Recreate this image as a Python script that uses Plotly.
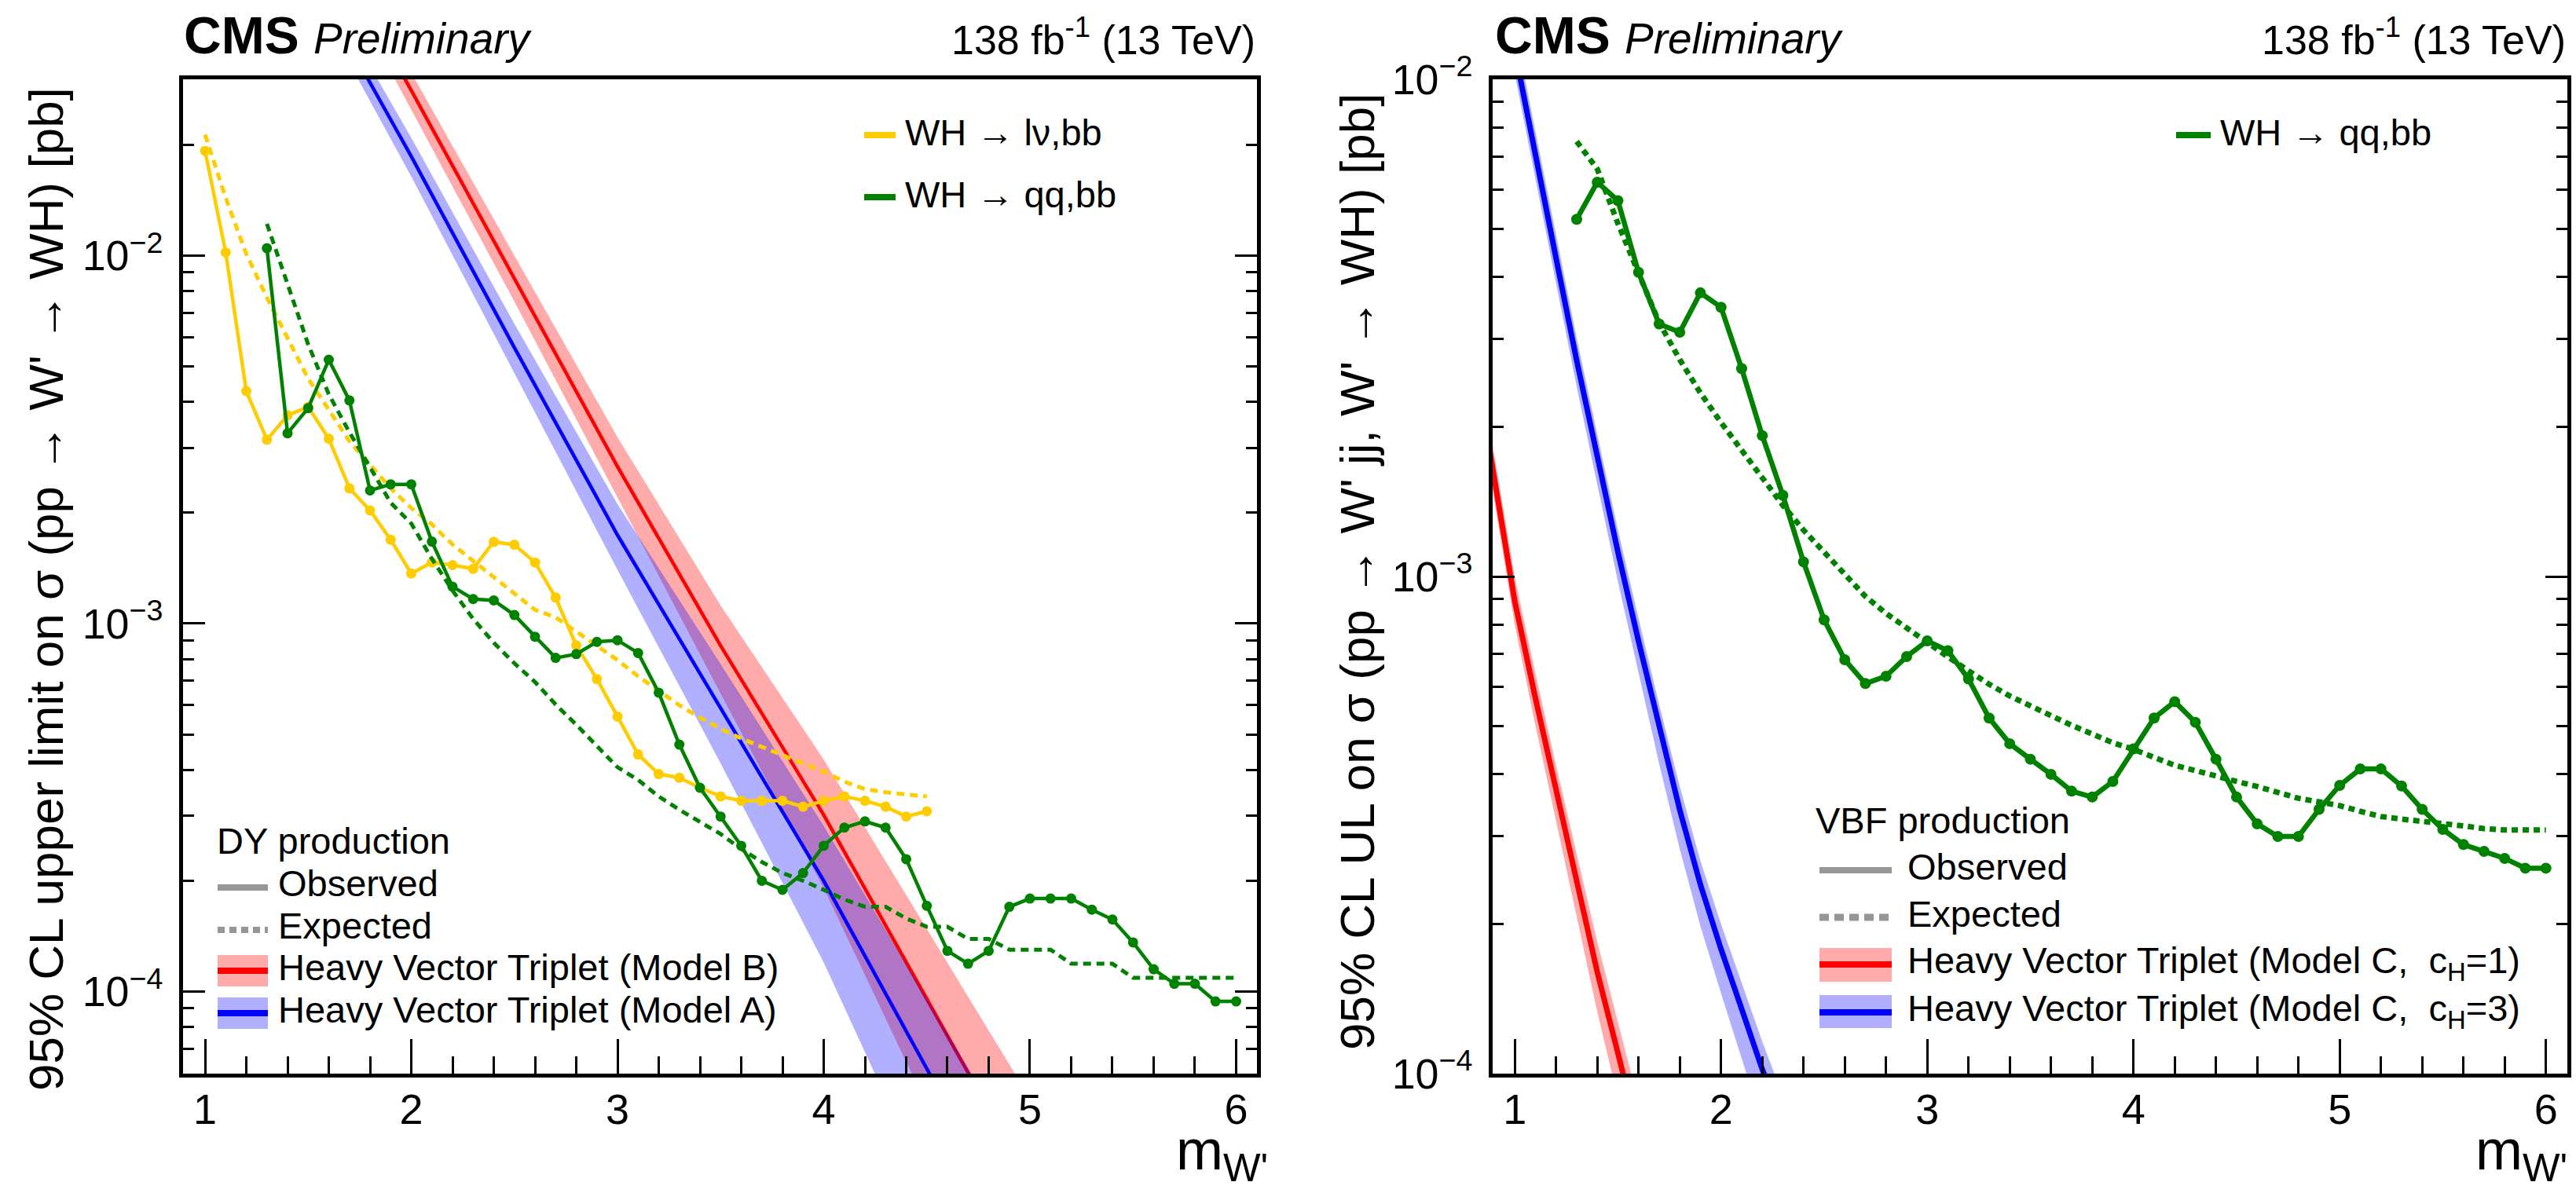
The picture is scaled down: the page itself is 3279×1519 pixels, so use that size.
import plotly.graph_objects as go

W, H = 3279, 1519
FONT = "Liberation Sans"

# ---------------- DATA ----------------
# DY production, WH -> lv,bb
mass_lvbb = [1.0, 1.1, 1.2, 1.3, 1.4, 1.5, 1.6, 1.7, 1.8, 1.9, 2.0, 2.1, 2.2, 2.3, 2.4, 2.5, 2.6, 2.7,
             2.8, 2.9, 3.0, 3.1, 3.2, 3.3, 3.4, 3.5, 3.6, 3.7, 3.8, 3.9, 4.0, 4.1, 4.2, 4.3, 4.4, 4.5]
obs_lvbb = [0.01925, 0.0102, 0.00428, 0.00316, 0.00368, 0.00388, 0.00318, 0.00233, 0.00203, 0.00169,
            0.001368, 0.001466, 0.001442, 0.001409, 0.001667, 0.001638, 0.001466, 0.001177, 0.000873,
            0.000707, 0.000559, 0.000441, 0.000390, 0.000381, 0.000358, 0.000339, 0.00033, 0.00033,
            0.00033, 0.000318, 0.00033, 0.000339, 0.00033, 0.000318, 0.000299, 0.000309]
exp_lvbb = [0.0213, 0.01436, 0.0101, 0.00769, 0.00597, 0.00463, 0.00381, 0.00313, 0.0027, 0.00233,
            0.00206, 0.00186, 0.00164, 0.00148, 0.00134, 0.0012, 0.00109, 0.00104, 0.000951, 0.000875,
            0.000796, 0.000719, 0.000655, 0.0006, 0.000555, 0.000518, 0.000487, 0.000463, 0.00044,
            0.000418, 0.000396, 0.000372, 0.000355, 0.000348, 0.000343, 0.000339]

# DY production, WH -> qq,bb
mass_qqbb = [1.3, 1.4, 1.5, 1.6, 1.7, 1.8, 1.9, 2.0, 2.1, 2.2, 2.3, 2.4, 2.5, 2.6, 2.7, 2.8, 2.9, 3.0,
             3.1, 3.2, 3.3, 3.4, 3.5, 3.6, 3.7, 3.8, 3.9, 4.0, 4.1, 4.2, 4.3, 4.4, 4.5, 4.6, 4.7, 4.8,
             4.9, 5.0, 5.1, 5.2, 5.3, 5.4, 5.5, 5.6, 5.7, 5.8, 5.9, 6.0]
obs_qqbb_dy = [0.01047, 0.00329, 0.00385, 0.00521, 0.00404, 0.0023, 0.00239, 0.00239, 0.00167, 0.00126,
               0.001166, 0.001156, 0.001055, 0.000921, 0.000807, 0.000826, 0.000892, 0.000901, 0.000832,
               0.000649, 0.000469, 0.000358, 0.000299, 0.000249, 0.0002, 0.000189, 0.00021, 0.000249,
               0.000279, 0.00029, 0.000279, 0.000229, 0.000171, 0.000129, 0.000119, 0.000129, 0.00017,
               0.000179, 0.000179, 0.000179, 0.000167, 0.000157, 0.000136, 0.000115, 0.000105, 0.000105,
               0.000094, 0.000094]
exp_qqbb_dy = [0.0122, 0.00835, 0.00574, 0.0042, 0.00331, 0.00266, 0.00213, 0.00187, 0.0015, 0.00123,
               0.00103, 0.000887, 0.00078, 0.000694, 0.000603, 0.000531, 0.000465, 0.000407, 0.000376,
               0.000339, 0.000312, 0.000289, 0.000268, 0.000244, 0.000225, 0.00021, 0.0002, 0.000189,
               0.000178, 0.00017, 0.00017, 0.000158, 0.00015, 0.00015, 0.000139, 0.000139, 0.00013,
               0.00013, 0.00013, 0.000119, 0.000119, 0.000119, 0.000109, 0.000109, 0.000109, 0.000109,
               0.000109, 0.000109]

# HVT DY predictions
hvt_dy_mass = [1.6, 1.8, 2.0, 2.5, 3.0, 3.5, 4.0, 4.5, 5.0]
hvtB = [0.0724, 0.0447, 0.0281, 0.00871, 0.00267, 0.000871, 0.000302, 9.55e-5, 3.02e-5]
hvtB_lo = [0.0653, 0.040, 0.0249, 0.0075, 0.0022, 0.000646, 0.000191, 4.9e-5, 1.26e-5]
hvtB_hi = [0.0794, 0.0493, 0.0314, 0.010, 0.00321, 0.00112, 0.000427, 0.000148, 5.13e-5]
hvtA = [0.0468, 0.0295, 0.0186, 0.00562, 0.00174, 0.000589, 0.0002, 6.17e-5, 1.91e-5]
hvtA_lo = [0.0422, 0.0263, 0.0164, 0.00479, 0.0014, 0.000417, 0.00012, 2.95e-5, 7.6e-6]
hvtA_hi = [0.0513, 0.0327, 0.0209, 0.00653, 0.00211, 0.000776, 0.000282, 9.55e-5, 3.24e-5]

# VBF production, WH -> qq,bb
obs_qqbb_vbf = [0.00523, 0.00621, 0.0057, 0.00409, 0.00322, 0.0031, 0.00372, 0.00348, 0.00262, 0.00192,
                0.001456, 0.00107, 0.000818, 0.00068, 0.000609, 0.00063, 0.00069, 0.000742, 0.000709,
                0.000622, 0.000519, 0.000461, 0.000429, 0.0004, 0.00037, 0.00036, 0.000387, 0.00045,
                0.000519, 0.00056, 0.000509, 0.000429, 0.00036, 0.000318, 0.0003, 0.0003, 0.00034,
                0.00038, 0.00041, 0.00041, 0.000379, 0.00034, 0.00031, 0.000289, 0.00028, 0.000271,
                0.000259, 0.000259]
exp_qqbb_vbf = [0.0075, 0.0066, 0.00513, 0.00407, 0.00324, 0.00273, 0.00234, 0.00204, 0.00179, 0.00157,
                0.00139, 0.00124, 0.00112, 0.00101, 0.000912, 0.000843, 0.000787, 0.000738, 0.000689,
                0.000646, 0.000607, 0.000575, 0.000548, 0.000525, 0.000502, 0.000482, 0.000463, 0.000449,
                0.000434, 0.000417, 0.000407, 0.000398, 0.000387, 0.000378, 0.000367, 0.000358, 0.000352,
                0.000346, 0.000337, 0.000329, 0.000325, 0.000322, 0.000318, 0.000315, 0.000311, 0.000309,
                0.000309, 0.000309]

# HVT VBF predictions
hvtC1_mass = [0.85, 0.9, 1.0, 1.1, 1.2, 1.3, 1.4, 1.5, 1.6, 1.7]
hvtC1 = [0.00211, 0.00158, 0.000891, 0.000569, 0.000372, 0.000244, 0.00016, 0.00011, 7.41e-5, 5.13e-5]
hvtC1_lo = [0.00191, 0.00143, 0.000798, 0.000501, 0.000324, 0.000207, 0.000133, 8.91e-5, 5.89e-5, 3.98e-5]
hvtC1_hi = [0.00234, 0.00176, 0.000995, 0.000638, 0.000417, 0.000277, 0.000184, 0.000127, 8.71e-5, 6.03e-5]
hvtC3_mass = [0.95, 1.0, 1.1, 1.2, 1.3, 1.4, 1.5, 1.6, 1.7, 1.8, 1.9, 2.0, 2.1, 2.2, 2.3]
hvtC3 = [0.0145, 0.01148, 0.00708, 0.00437, 0.00272, 0.00174, 0.00112, 0.000741, 0.000495, 0.000339,
         0.00024, 0.000178, 0.000135, 0.000102, 7.94e-5]
hvtC3_lo = [0.01303, 0.01035, 0.00634, 0.00389, 0.00241, 0.00153, 0.000977, 0.000637, 0.00042, 0.000283,
            0.000198, 0.000145, 0.000107, 7.94e-5, 6.03e-5]
hvtC3_hi = [0.016, 0.0127, 0.00785, 0.00484, 0.00302, 0.00193, 0.00124, 0.000824, 0.000552, 0.000378,
            0.000268, 0.0002, 0.000152, 0.000116, 9.02e-5]

# ---------------- STYLE ----------------
YELLOW = "#FFCC00"
GREEN = "#008200"
RED = "#FF0000"
BLUE = "#0000FF"
RED_BAND = "rgba(255,0,0,0.33)"
BLUE_BAND = "rgba(0,0,255,0.31)"
GRAY = "#969696"


def X(px):
    return px / W


def Y(py):
    return 1 - py / H


fig = go.Figure()


def band(xs, lo, hi, color, xa, ya):
    fig.add_trace(go.Scatter(x=xs + xs[::-1], y=hi + lo[::-1], fill="toself", fillcolor=color,
                             line=dict(width=0), mode="lines", hoverinfo="skip",
                             xaxis=xa, yaxis=ya))


def line(xs, ys, color, width, xa, ya, dash="solid", markers=False, msize=13):
    fig.add_trace(go.Scatter(x=xs, y=ys, mode="lines+markers" if markers else "lines",
                             line=dict(color=color, width=width, dash=dash),
                             marker=dict(size=msize, color=color),
                             xaxis=xa, yaxis=ya))


# Left panel (DY)
band(hvt_dy_mass, hvtB_lo, hvtB_hi, RED_BAND, "x", "y")
line(hvt_dy_mass, hvtB, RED, 4.5, "x", "y")
band(hvt_dy_mass, hvtA_lo, hvtA_hi, BLUE_BAND, "x", "y")
line(hvt_dy_mass, hvtA, BLUE, 4.5, "x", "y")
line(mass_lvbb, exp_lvbb, YELLOW, 5, "x", "y", dash="10px,7px")
line(mass_lvbb, obs_lvbb, YELLOW, 4.5, "x", "y", markers=True)
line(mass_qqbb, exp_qqbb_dy, GREEN, 5, "x", "y", dash="10px,7px")
line(mass_qqbb, obs_qqbb_dy, GREEN, 4.5, "x", "y", markers=True)

# Right panel (VBF)
band(hvtC1_mass, hvtC1_lo, hvtC1_hi, RED_BAND, "x2", "y2")
line(hvtC1_mass, hvtC1, RED, 7, "x2", "y2")
band(hvtC3_mass, hvtC3_lo, hvtC3_hi, BLUE_BAND, "x2", "y2")
line(hvtC3_mass, hvtC3, BLUE, 7, "x2", "y2")
line(mass_qqbb, exp_qqbb_vbf, GREEN, 7, "x2", "y2", dash="8px,6px")
line(mass_qqbb, obs_qqbb_vbf, GREEN, 6.5, "x2", "y2", markers=True, msize=14)

# ---------------- AXES ----------------
ydom = [Y(1367), Y(101)]
common = dict(showline=True, linecolor="black", linewidth=5, ticks="inside", tickcolor="black",
              tickwidth=2.5, showgrid=False, zeroline=False, automargin=False,
              tickfont=dict(family=FONT, size=54, color="black"))
xcommon = dict(common, mirror=True, tick0=0, dtick=1, ticklen=44, ticklabelstandoff=-6,
               minor=dict(dtick=0.2, ticks="inside", ticklen=22, tickwidth=2.5, tickcolor="black",
                          showgrid=False))
ycommon = dict(common, mirror="allticks", type="log", dtick=1, exponentformat="power", ticklen=28,
               tickfont=dict(family=FONT, size=43, color="black"), ticklabelstandoff=12,
               minor=dict(dtick="D1", ticks="inside", ticklen=14, tickwidth=2.5, tickcolor="black",
                          showgrid=False))

fig.update_layout(
    template="none",
    width=W, height=H, margin=dict(l=0, r=0, t=0, b=0, pad=0, autoexpand=False),
    paper_bgcolor="white", plot_bgcolor="white", showlegend=False,
    xaxis=dict(xcommon, domain=[X(233), X(1600)], range=[0.8933, 6.101], anchor="y"),
    yaxis=dict(ycommon, domain=ydom, range=[-4.223, -1.521], anchor="x"),
    xaxis2=dict(xcommon, domain=[X(1900), X(3268)], range=[0.8926, 6.104], anchor="y2"),
    yaxis2=dict(ycommon, domain=ydom, range=[-4.0, -2.0], anchor="x2"),
)

# ---------------- TEXT ----------------
ann = []


def text(px, py, s, size, xanchor="left", yanchor="middle", angle=0, bold=False, italic=False):
    t = s
    if bold:
        t = "<b>" + t + "</b>"
    if italic:
        t = "<i>" + t + "</i>"
    ann.append(dict(x=X(px), y=Y(py), xref="paper", yref="paper", text=t, showarrow=False,
                    xanchor=xanchor, yanchor=yanchor, textangle=angle,
                    font=dict(family=FONT, size=size, color="black")))


for (fl, fr) in [(232, 1600), (1901, 3268)]:
    text(fl, 45, "CMS", 66, bold=True)
    text(fl + 165, 49, "Preliminary", 55, italic=True)
    text(fr, 47, "138 fb<sup>-1</sup> (13 TeV)", 52, xanchor="right")

text(58, 750, "95% CL upper limit on σ (pp → W' → WH) [pb]", 62, xanchor="center", angle=-90)
text(1728, 728, "95% CL UL on σ (pp → W' jj, W' → WH) [pb]", 62, xanchor="center", angle=-90)
text(1616, 1517, "m<sub>W'</sub>", 72, xanchor="right", yanchor="bottom")
text(3270, 1517, "m<sub>W'</sub>", 72, xanchor="right", yanchor="bottom")

shapes = []


def hline(x0, x1, py, color, width, dash="solid"):
    shapes.append(dict(type="line", xref="paper", yref="paper", x0=X(x0), x1=X(x1), y0=Y(py), y1=Y(py),
                       line=dict(color=color, width=width, dash=dash)))


def rect(x0, x1, y0, y1, color):
    shapes.append(dict(type="rect", xref="paper", yref="paper", x0=X(x0), x1=X(x1), y0=Y(y0), y1=Y(y1),
                       fillcolor=color, line=dict(width=0)))


LEG = 47
# left top legend
hline(1100, 1140, 172, YELLOW, 8)
text(1150, 169, "WH → lν,bb", LEG)
hline(1100, 1140, 251, GREEN, 8)
text(1150, 248, "WH → qq,bb", LEG)
# right top legend
hline(2770, 2814, 172, GREEN, 8)
text(2824, 169, "WH → qq,bb", LEG)

# left bottom legend
text(274, 1070, "DY production", LEG)
hline(277, 341, 1130, GRAY, 8)
text(352, 1124, "Observed", LEG)
hline(277, 341, 1184, GRAY, 8, dash="9px,6px")
text(352, 1178, "Expected", LEG)
rect(277, 341, 1216, 1256, RED_BAND)
hline(277, 341, 1236, RED, 8)
text(352, 1231, "Heavy Vector Triplet (Model B)", LEG)
rect(277, 341, 1270, 1310, BLUE_BAND)
hline(277, 341, 1290, BLUE, 8)
text(352, 1285, "Heavy Vector Triplet (Model A)", LEG)

# right bottom legend
text(2309, 1044, "VBF production", LEG)
hline(2316, 2408, 1108, GRAY, 8)
text(2426, 1103, "Observed", LEG)
hline(2316, 2408, 1168, GRAY, 9, dash="12px,7px")
text(2426, 1163, "Expected", LEG)
rect(2316, 2408, 1207, 1250, RED_BAND)
hline(2316, 2408, 1228, RED, 8)
text(2426, 1226, "Heavy Vector Triplet (Model C,\u00a0\u00a0c<sub>H</sub>=1)", LEG)
rect(2316, 2408, 1267, 1309, BLUE_BAND)
hline(2316, 2408, 1289, BLUE, 8)
text(2426, 1287, "Heavy Vector Triplet (Model C,\u00a0\u00a0c<sub>H</sub>=3)", LEG)

fig.update_layout(annotations=ann, shapes=shapes)
fig.write_html("out.html")
